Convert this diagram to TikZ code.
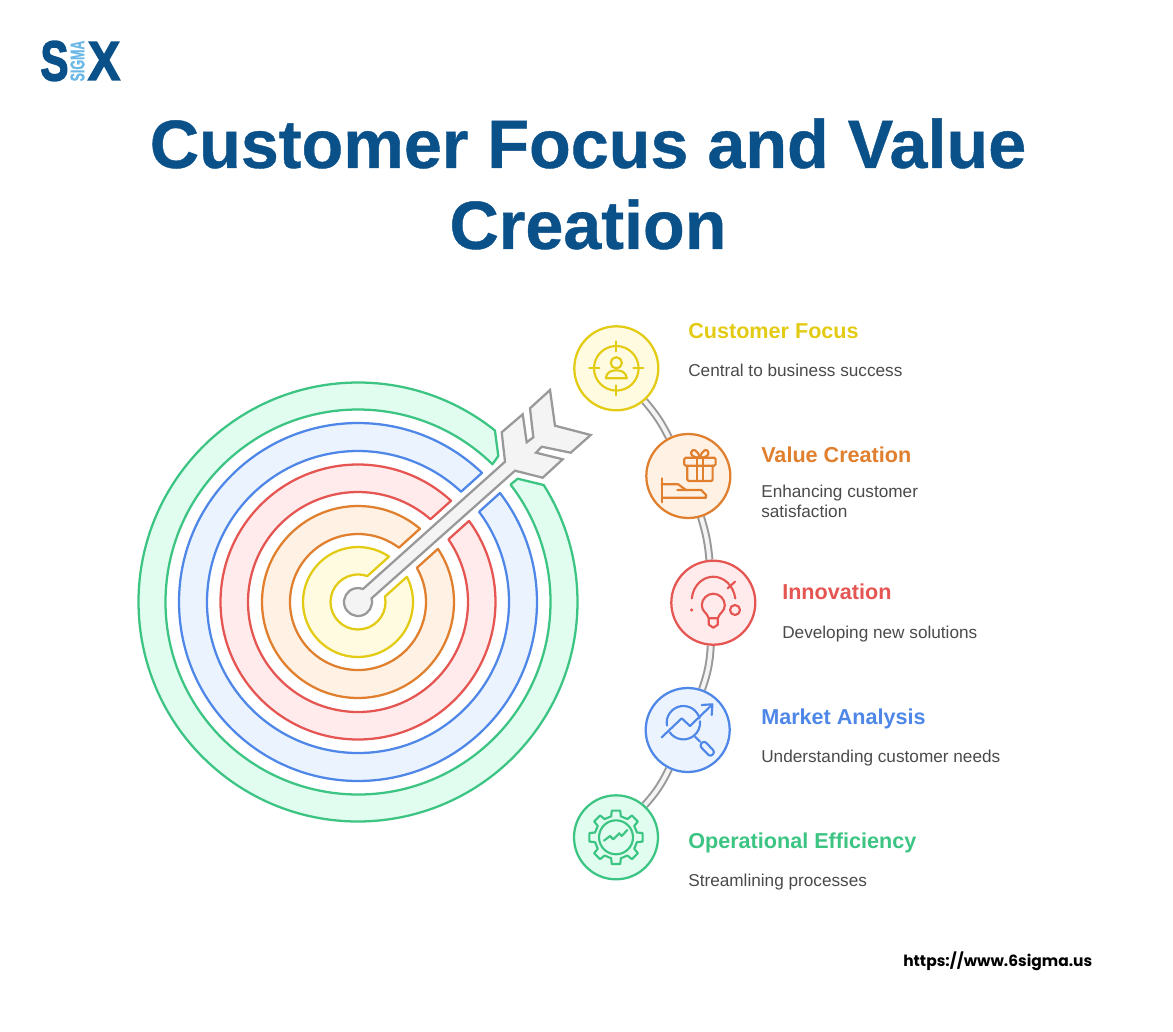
\documentclass[tikz,border=0pt]{standalone}
\usepackage{graphicx}
\usepackage{fontspec}
\setmainfont{Liberation Sans}
\newfontfamily\logofont[FakeBold=3]{Liberation Sans Bold}
\newfontfamily\titlefont[FakeBold=0.6]{Liberation Sans Bold}
\newfontfamily\sigmafont[FakeBold=1]{Liberation Sans Bold}
\newfontfamily\urlfont{Poppins}
\usetikzlibrary{backgrounds}
\definecolor{cyS}{HTML}{E3CB14}\definecolor{cyF}{HTML}{FFFBE1}
\definecolor{coS}{HTML}{E07F2E}\definecolor{coF}{HTML}{FFF1E4}
\definecolor{crS}{HTML}{E55552}\definecolor{crF}{HTML}{FFEBEB}
\definecolor{cbS}{HTML}{4F87E8}\definecolor{cbF}{HTML}{EBF3FF}
\definecolor{cgS}{HTML}{3CC482}\definecolor{cgF}{HTML}{E1FDF0}
\definecolor{navy}{HTML}{0B5189}
\definecolor{sky}{HTML}{6CB8E6}
\definecolor{body}{HTML}{4A4A4A}
\definecolor{greyS}{HTML}{999999}\definecolor{greyF}{HTML}{F4F4F4}
\tikzset{
  ringline/.style={line width=1.7pt,line join=round},
  iconcircle/.style={circle,draw=#1S,fill=#1F,line width=1.7pt,minimum size=63pt,inner sep=0pt},
  iconline/.style={draw=#1,line width=1.6pt,line cap=round,line join=round},
  band/.style={draw=greyS,line width=1.5pt,double=greyF,double distance=3pt},
  head/.style={anchor=base west,inner sep=0pt,font=\fontsize{16.2pt}{19pt}\selectfont\bfseries},
  desc/.style={anchor=base west,inner sep=0pt,text=body,font=\fontsize{12.9pt}{15pt}\selectfont},
}
\newcommand{\ringshape}[4]{%
  \pgfmathsetmacro\aU{42+asin(13/#3)}%
  \pgfmathsetmacro\aUi{42+asin(13/#2)}%
  \pgfmathsetmacro\aL{402-asin(14/#3)}%
  \pgfmathsetmacro\aLi{402-asin(14/#2)}%
  \draw[ringline,draw=#1,fill=#4] (\aU:#3) arc[start angle=\aU,end angle=\aL,radius=#3]
    -- (\aLi:#2) arc[start angle=\aLi,end angle=\aUi,radius=#2] -- cycle;
}
\begin{document}
\begin{tikzpicture}[x=.75pt,y=-.75pt]
\useasboundingbox (0,0) rectangle (1173,1031);
% logo
\node[inner sep=0pt,text=navy] (logoS) at (54.5,61) {\logofont\fontsize{42pt}{42pt}\selectfont\scalebox{.75}[1]{S}};
\node[inner sep=0pt,text=navy] (logoX) at (104,61) {\logofont\fontsize{41pt}{42pt}\selectfont\scalebox{.88}[1]{X}};
\node[inner sep=0pt,text=sky] (logoSigma) at (77.5,61) {\rotatebox{90}{\sigmafont\fontsize{15pt}{15pt}\selectfont\scalebox{.62}[1]{SIGMA}}};
% title
\node[inner sep=0pt,align=center,text=navy,font=\titlefont\fontsize{51.2pt}{60.75pt}\selectfont] (title) at (588,184) {Customer Focus and Value\\Creation};
% target
\begin{scope}[shift={(358,602)},y=.75pt]
\ringshape{cyS}{27.5}{55}{cyF}
\ringshape{coS}{68}{96}{coF}
\ringshape{crS}{110}{137.5}{crF}
\ringshape{cbS}{151}{179}{cbF}
\draw[ringline,draw=cgS,fill=cgF] (51.4:219.5) arc[start angle=51.4,end angle=392.2,radius=219.5]
  -- (159.7,123.3) -- (37.6:192.5) arc[start angle=397.6,end angle=45.7,radius=192.5]
  -- (140.3,146) -- cycle;
\draw[line width=1.7pt,line join=miter,draw=greyS,fill=greyF] (15:14) arc[start angle=15,end angle=-291,radius=14]
  -- (147,140.3) -- (143.7,169.7) -- (164.7,187.7) -- (168.7,159.7) -- (175.3,164.7)
  -- (172,193.7) -- (192,212) -- (197,176.3) -- (232.7,167) -- (212.7,149.3)
  -- (183.7,155.3) -- (178,149.3) -- (204.7,142.7) -- (184.7,124.3) -- (157,131.3) -- cycle;
\end{scope}
% icon circles
\node[iconcircle=cy] (n1) at (616.3,368.3) {};
\node[iconcircle=co] (n2) at (688.3,476) {};
\node[iconcircle=cr] (n3) at (713.3,602.7) {};
\node[iconcircle=cb] (n4) at (687.7,730) {};
\node[iconcircle=cg] (n5) at (616,837.3) {};
\begin{scope}[on background layer]
\draw[band] (n1) to[bend left=7] (n2);
\draw[band] (n2) to[bend left=6] (n3);
\draw[band] (n3) to[bend left=8] (n4);
\draw[band] (n4) to[bend left=8] (n5);
\end{scope}
% icon 1
\begin{scope}[shift={(n1)}]
\draw[iconline=cyS] (0,0) circle[radius=22.3];
\draw[iconline=cyS] (0,-27)--(0,-17) (0,27)--(0,17) (-27,0)--(-17,0) (27,0)--(17,0);
\draw[iconline=cyS] (0,-5.5) circle[radius=5.6];
\draw[iconline=cyS] (-10.5,10) .. controls (-10,4) and (-5,2) .. (0,2) .. controls (5,2) and (10,4) .. (10.5,10) -- cycle;
\end{scope}
% icon 2
\begin{scope}[shift={(n2)}]
\draw[iconline=coS,rounded corners=1pt] (-1,-10.3)--(-1,5)--(24.3,5)--(24.3,-10.3);
\draw[iconline=coS,rounded corners=1pt] (-4,-18.3) rectangle (27.3,-10.3);
\draw[iconline=coS] (8.3,-18.3)--(8.3,5) (15,-18.3)--(15,5);
\draw[iconline=coS] (11.6,-18.3) .. controls (5,-18.3) and (2,-21) .. (3,-24) .. controls (4,-27.5) and (9,-27) .. (11.6,-18.3)
  .. controls (14,-27) and (19,-27.5) .. (20,-24) .. controls (21,-21) and (18,-18.3) .. (11.6,-18.3);
\draw[iconline=coS] (-26.7,2.3)--(-26.7,26.3);
\draw[iconline=coS] (-26.7,8.3)--(-10,8.3)--(-2.3,14)--(-11,14);
\draw[iconline=coS] (-2.3,14)--(13,14)--(17.7,19)--(17.7,21.7)--(-26.7,21.7);
\end{scope}
% icon 3
\begin{scope}[shift={(n3)}]
\draw[iconline=crS] (-21.5,-4.3) .. controls (-20,-18) and (-10,-26) .. (0,-26) .. controls (10,-26) and (20,-18) .. (22,-4.3);
\draw[iconline=crS] (14.3,-14.3)--(21.7,-21);
\draw[iconline=crS] (21.7,7.3) circle[radius=5];
\fill[crS] (-21.7,7.3) circle[radius=1.8];
\draw[iconline=crS] (-4.5,15.6) .. controls (-6,10) and (-11.5,9) .. (-11.5,2.5) .. controls (-11.5,-4) and (-6,-9) .. (0,-9)
  .. controls (6,-9) and (11.5,-4) .. (11.5,2.5) .. controls (11.5,9) and (6,10) .. (4.5,15.6) -- cycle;
\draw[iconline=crS] (-4.5,15.6)--(-4.5,22)--(0,25)--(4.5,22)--(4.5,15.6);
\end{scope}
% icon 4
\begin{scope}[shift={(n4)}]
\begin{scope}[shift={(-4.3,-7.3)},y=.75pt]
\draw[iconline=cbS] (190:16.7) arc[start angle=190,end angle=15,radius=16.7];
\draw[iconline=cbS] (215:16.7) arc[start angle=215,end angle=365,radius=16.7];
\end{scope}
\draw[iconline=cbS] (-26,7.3)--(-6,-11.7)--(2.3,-4)--(24,-25);
\draw[iconline=cbS] (14,-25)--(24.7,-25.7)--(24,-15);
\draw[iconline=cbS] (7.3,6.7)--(12.3,11.7);
\draw[iconline=cbS,rounded corners=2.2pt] (16.4,10.6)--(27.4,22.1)--(22.6,26.9)--(11.6,15.4)--cycle;
\end{scope}
% icon 5
\begin{scope}[shift={(n5)}]
\draw[iconline=cgS] (-13:21.5) \foreach \a in {0,45,...,315}{ -- (\a-13:21.5) -- (\a-9:27) -- (\a+9:27) -- (\a+13:21.5)} -- cycle;
\draw[iconline=cgS] (0,0) circle[radius=17];
\draw[iconline=cgS] (-12,3.3)--(-6,-1.3)--(-2.7,2)--(3.3,-4)--(5.7,-1.3)--(11.3,-7.3);
\end{scope}
% labels
\node[head,text=cyS] (h1) at (688,338) {Customer Focus};
\node[desc] (d1) at (688,376) {Central to business success};
\node[head,text=coS] (h2) at (761,462) {Value Creation};
\node[desc] (d2a) at (761,497) {Enhancing customer};
\node[desc] (d2b) at (761,517) {satisfaction};
\node[head,text=crS] (h3) at (782,599) {Innovation};
\node[desc] (d3) at (782,638) {Developing new solutions};
\node[head,text=cbS] (h4) at (761,724) {Market Analysis};
\node[desc] (d4) at (761,762) {Understanding customer needs};
\node[head,text=cgS] (h5) at (688,848) {Operational Efficiency};
\node[desc] (d5) at (688,886) {Streamlining processes};
\node[anchor=west,inner sep=0pt,text=black,font=\urlfont\bfseries\fontsize{11.6pt}{15pt}\selectfont] (url) at (903,961) {https://www.6sigma.us};
\end{tikzpicture}
\end{document}
